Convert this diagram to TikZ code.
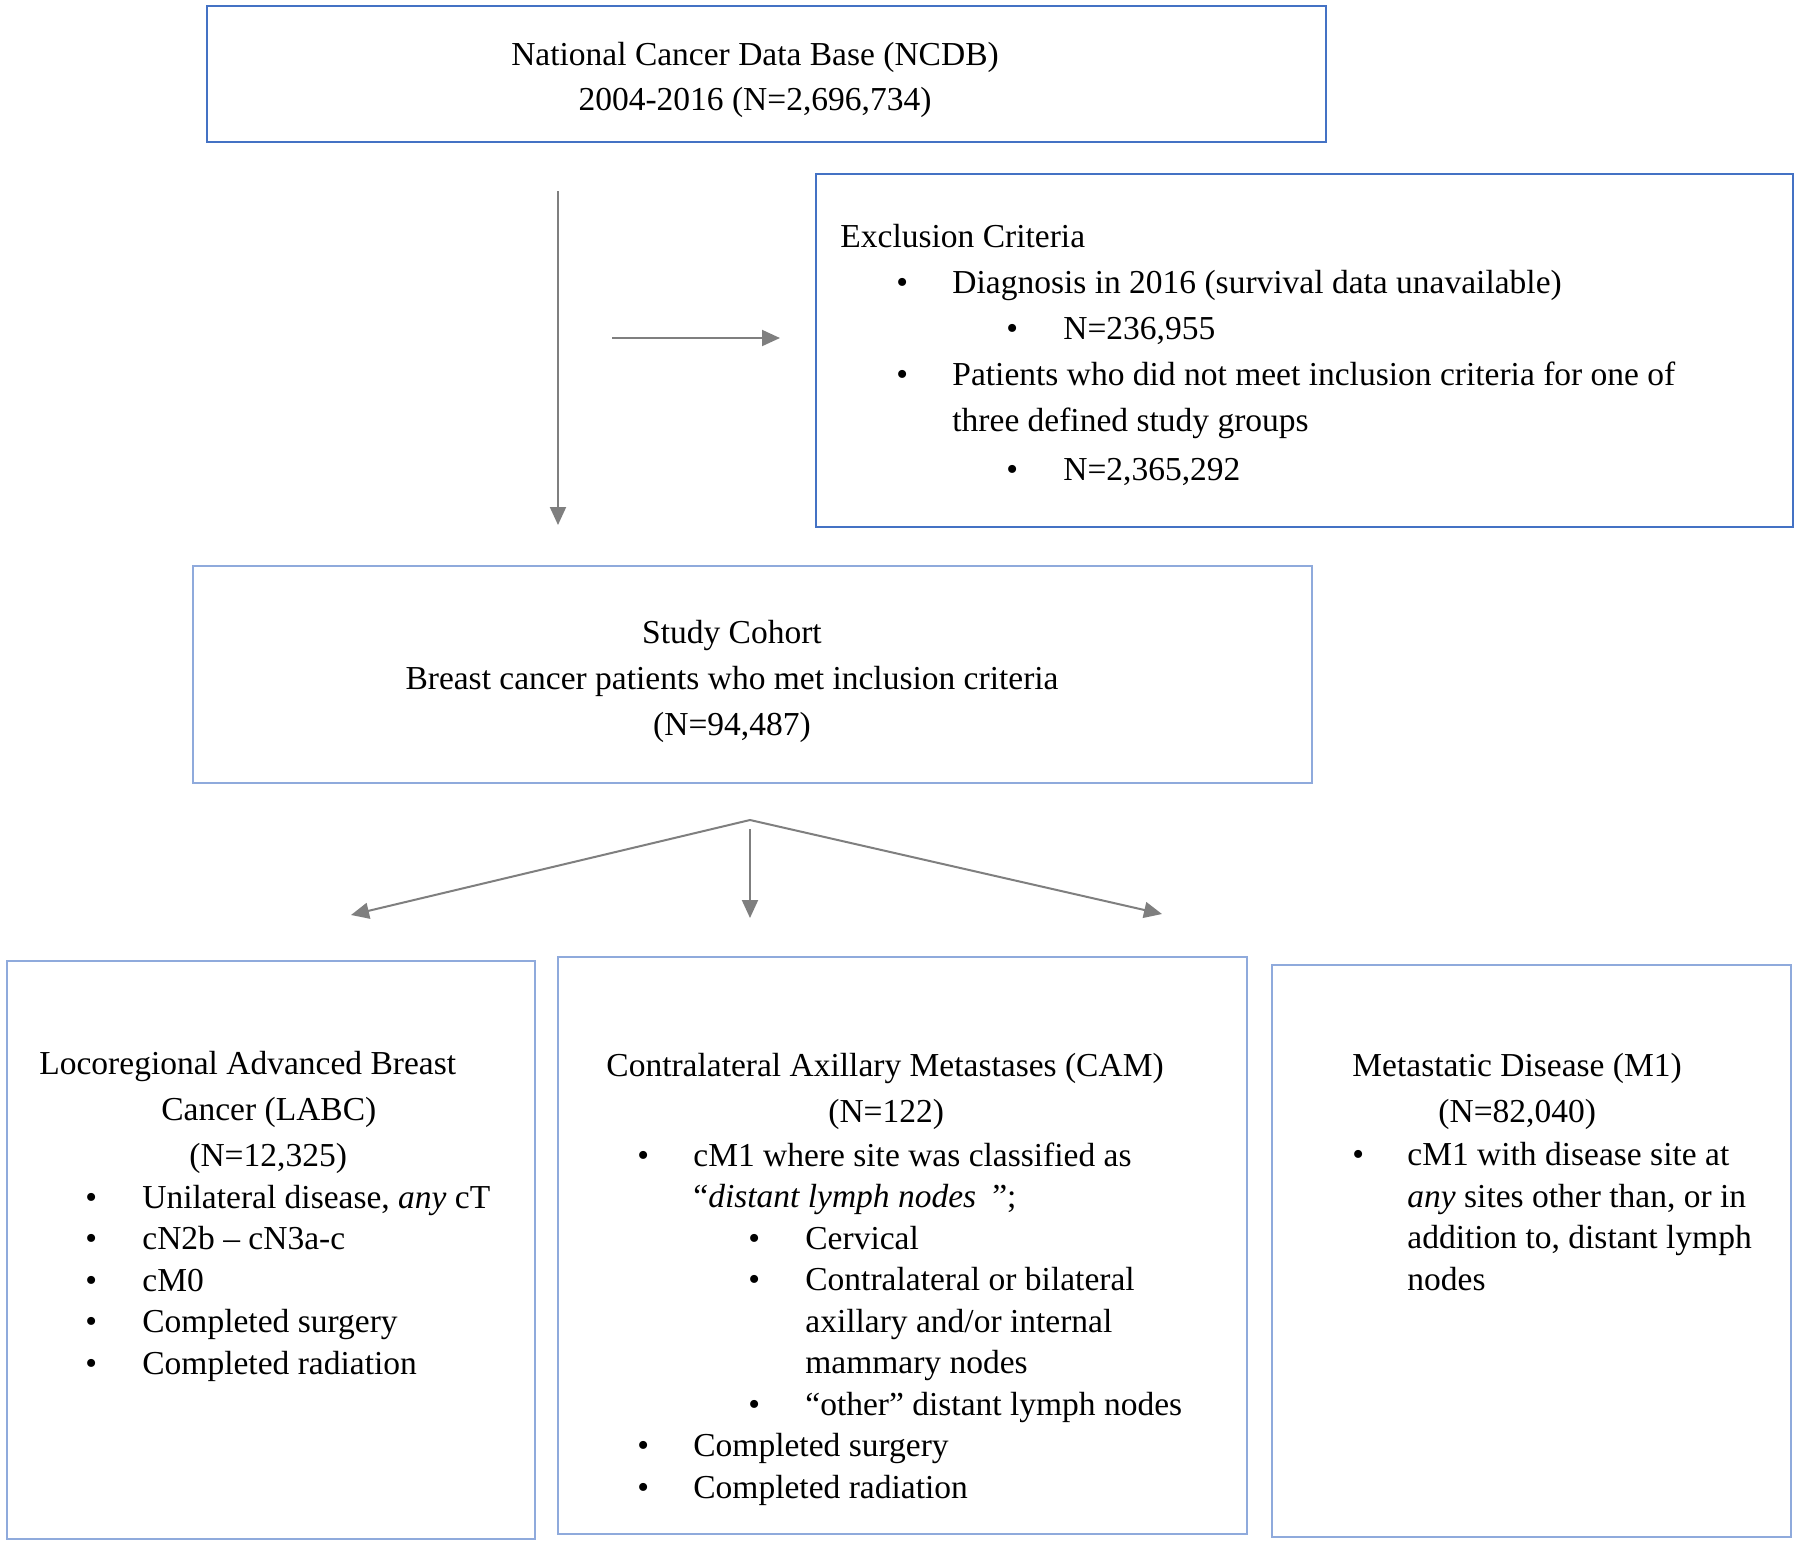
\documentclass[tikz,border=0pt]{standalone}
\usepackage{fontspec}
\setmainfont{Liberation Serif}
\usetikzlibrary{arrows.meta,positioning}
\definecolor{boxblue}{HTML}{4472C4}
\definecolor{lightblue}{HTML}{8FAADC}
\definecolor{arrowgray}{HTML}{7F7F7F}
\newcommand{\bitem}[3]{\makebox[#2][l]{\hspace*{#1}\textbullet}#3}

\begin{document}
\begin{tikzpicture}[x=0.5pt,y=-0.5pt,
    box/.style={draw=lightblue,line width=1pt,inner sep=0pt},
    topbox/.style={box,draw=boxblue,line width=1.3pt},
    txt/.style={inner sep=0pt,align=left,font=\fontsize{16.75}{20.75}\selectfont},
    arr/.style={draw=arrowgray,line width=1pt,-{Triangle[length=9pt,width=8pt]}}]
	\useasboundingbox (0,0) rectangle (1800,1548);
	\node[topbox,minimum width=559.5pt,minimum height=68pt] at (766.5,74) (ncdb) {};
	\node[txt,align=center,anchor=base,font=\fontsize{16.75}{22.5}\selectfont] at (755,110) (ncdbtxt) {National Cancer Data Base (NCDB)\\2004-2016 (N=2,696,734)};
	\node[topbox,minimum width=488.5pt,minimum height=176.5pt] at (1304.5,350.5) (excl) {};
	\node[txt,anchor=base west,font=\fontsize{16.75}{23}\selectfont] at (840,480) (excltxt) {Exclusion Criteria\\
		\bitem{28pt}{56pt}{Diagnosis in 2016 (survival data unavailable)}\\
		\bitem{83pt}{111.5pt}{N=236,955}\\
		\bitem{28pt}{56pt}{Patients who did not meet inclusion criteria for one of}\\
		\hspace*{56pt}three defined study groups\\[1.5pt]
		\bitem{83pt}{111.5pt}{N=2,365,292}};
	\node[box,minimum width=559.5pt,minimum height=108.5pt] at (752.5,674.5) (cohort) {};
	\node[txt,align=center,anchor=base,font=\fontsize{16.75}{23}\selectfont] at (732,735) (cohorttxt) {Study Cohort\\Breast cancer patients who met inclusion criteria\\(N=94,487)};
	\node[box,minimum width=264pt,minimum height=289pt] at (271,1250) (labc) {};
	\node[txt,anchor=base west] at (39,1374) (labctxt) {Locoregional Advanced Breast\\[2.25pt]
		\hspace*{61pt}Cancer (LABC)\\[2.25pt]
		\hspace*{75pt}(N=12,325)\\
		\bitem{23pt}{51.5pt}{Unilateral disease, \textit{any} cT}\\
		\bitem{23pt}{51.5pt}{cN2b -- cN3a-c}\\
		\bitem{23pt}{51.5pt}{cM0}\\
		\bitem{23pt}{51.5pt}{Completed surgery}\\
		\bitem{23pt}{51.5pt}{Completed radiation}};
	\node[box,minimum width=344.5pt,minimum height=288.5pt] at (902.5,1245.5) (cam) {};
	\node[txt,anchor=base west] at (606,1498) (camtxt) {Contralateral Axillary Metastases (CAM)\\[2.25pt]
		\hspace*{111pt}(N=122)\\[1pt]
		\bitem{15.5pt}{43.5pt}{cM1 where site was classified as}\\
		\hspace*{43.5pt}“\textit{distant lymph nodes}\hspace*{8pt}”;\\
		\bitem{71pt}{99.5pt}{Cervical}\\
		\bitem{71pt}{99.5pt}{Contralateral or bilateral}\\
		\hspace*{99.5pt}axillary and/or internal\\
		\hspace*{99.5pt}mammary nodes\\
		\bitem{71pt}{99.5pt}{“other” distant lymph nodes}\\
		\bitem{15.5pt}{43.5pt}{Completed surgery}\\
		\bitem{15.5pt}{43.5pt}{Completed radiation}};
	\node[box,minimum width=259.5pt,minimum height=286pt] at (1531.5,1251) (mone) {};
	\node[txt,anchor=base west] at (1352,1290) (monetxt) {Metastatic Disease (M1)\\[2.25pt]
		\hspace*{43pt}(N=82,040)\\[1pt]
		\bitem{0pt}{27.5pt}{cM1 with disease site at}\\
		\hspace*{27.5pt}\textit{any} sites other than, or in\\
		\hspace*{27.5pt}addition to, distant lymph\\
		\hspace*{27.5pt}nodes};
	\coordinate (downtop) at (558,191);
	\coordinate (downend) at (558,525);
	\draw[arr] (downtop) -- (downend);
	\coordinate (sidestart) at (612,338);
	\coordinate (sideend) at (780,338);
	\draw[arr] (sidestart) -- (sideend);
	\coordinate (split) at (750,820);
	\coordinate (splitmid) at (750,829);
	\coordinate (labcend) at (351,915);
	\coordinate (camend) at (750,918);
	\coordinate (moneend) at (1162,914);
	\draw[arr] (split) -- (labcend);
	\draw[arr] (splitmid) -- (camend);
	\draw[arr] (split) -- (moneend);
\end{tikzpicture}
\end{document}
